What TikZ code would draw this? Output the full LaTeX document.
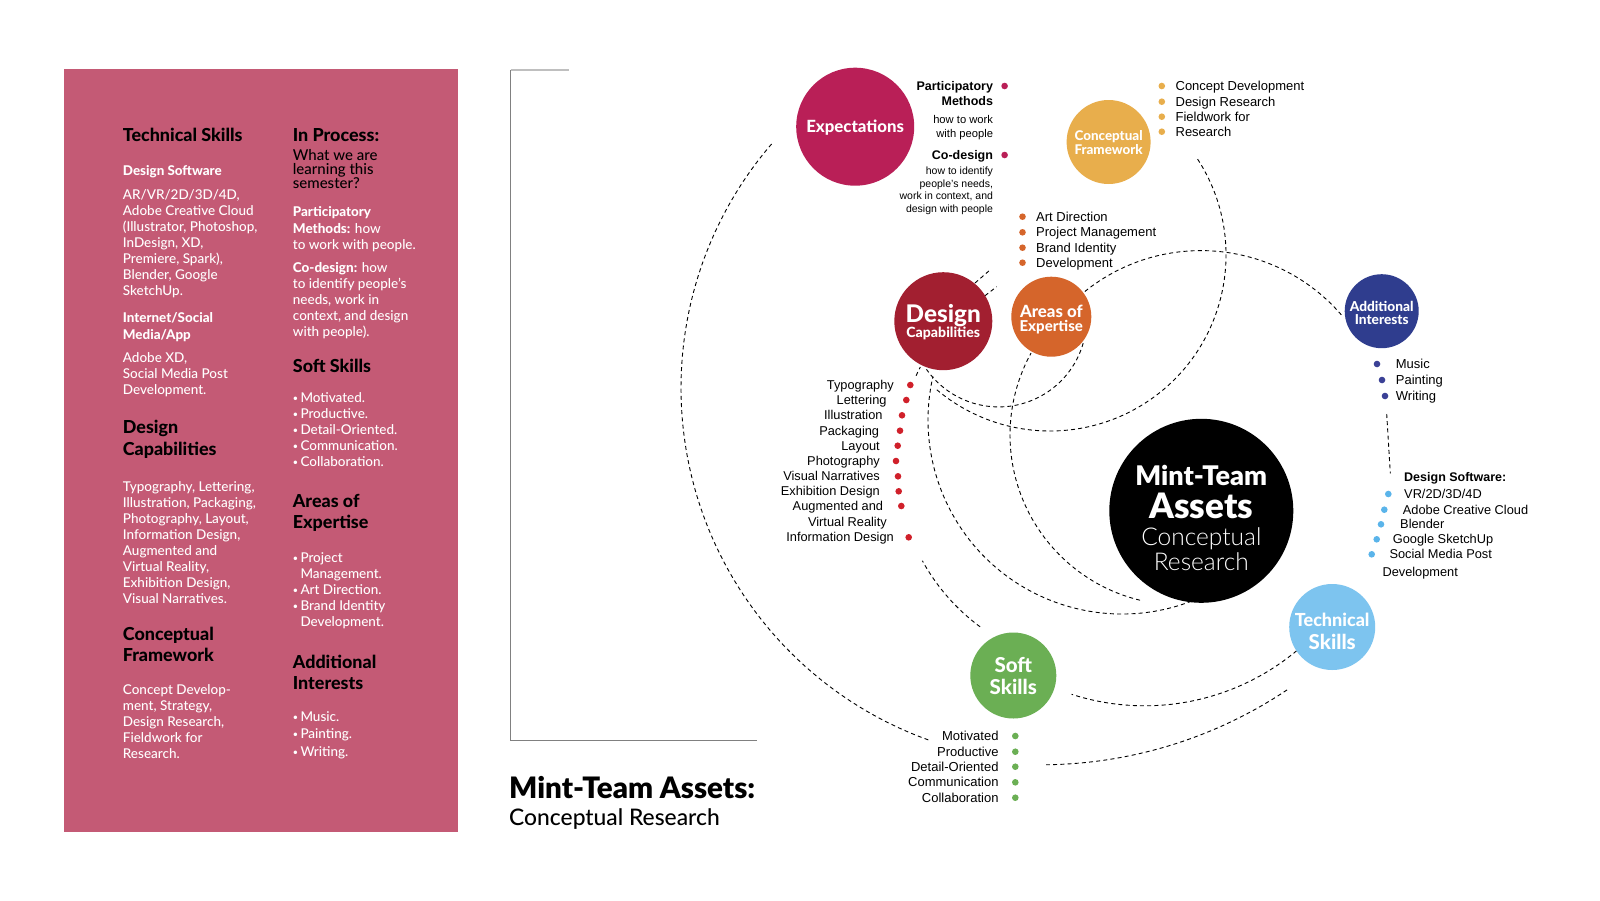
\documentclass[tikz,border=0pt]{standalone}
\usepackage{fontspec}
\setmainfont{Lato}
\newfontfamily\hv{Liberation Sans}
\IfFontExistsTF{Lato Black}{\newfontfamily\latoblack{Lato Black}}{\newfontfamily\latoblackx[FakeBold=1.2]{Lato}\def\latoblack{\latoblackx\bfseries}}
\IfFontExistsTF{Lato Heavy}{\newfontfamily\latoheavy{Lato Heavy}}{\newfontfamily\latoheavyx[FakeBold=0.5]{Lato}\def\latoheavy{\latoheavyx\bfseries}}
\IfFontExistsTF{Lato Light}{\newfontfamily\latolight{Lato Light}}{\newfontfamily\latolight{Lato}}
\IfFontExistsTF{Lato Medium}{\newfontfamily\latomed{Lato Medium}}{\newfontfamily\latomed{Lato}}
\definecolor{panel}{HTML}{C45A75}
\definecolor{cexp}{HTML}{B91F57}
\definecolor{ccf}{HTML}{E8AE4C}
\definecolor{cdc}{HTML}{A21F30}
\definecolor{cae}{HTML}{D5652B}
\definecolor{cai}{HTML}{2F3D8E}
\definecolor{cts}{HTML}{7DC4EF}
\definecolor{css}{HTML}{6BAF54}
\definecolor{cred}{HTML}{D0202A}
\definecolor{cnavy}{HTML}{3B4196}
\definecolor{csky}{HTML}{5AB4EA}
\tikzset{
  ball/.style={circle, inner sep=0pt, minimum size=#1},
  dotm/.style={circle, inner sep=0pt, minimum size=6.6pt, fill=#1},
  dl/.style={line width=0.9pt, dash pattern=on 4pt off 3.2pt},
  lt/.style={inner sep=0pt, anchor=base west},
  rt/.style={inner sep=0pt, anchor=base east},
  ct/.style={inner sep=0pt, anchor=base, text=white},
  ph/.style={lt, font=\latoheavy\fontsize{17.9}{20}\selectfont, text=black},
  ps/.style={lt, font=\latoheavy\fontsize{13.4}{16}\selectfont, text=white},
  pb/.style={lt, font=\latomed\fontsize{13.5}{16}\selectfont, text=white},
  li/.style={font=\hv\fontsize{13}{15}\selectfont},
  ls/.style={font=\hv\fontsize{12.8}{15}\selectfont},
  lk/.style={font=\hv\fontsize{13}{15}\selectfont},
}
\newcommand\hb[1]{{\latoheavy #1}}
\newcommand\bl{\makebox[7.6pt][l]{\raisebox{1pt}{\fontsize{9}{9}\selectfont •}}}
\begin{document}
\begin{tikzpicture}[x=1pt,y=-1pt]
\useasboundingbox (0,0) rectangle (1600,900);
\fill[white] (0,0) rectangle (1600,900);
% ---------- left panel ----------
\node[fill=panel, minimum width=394pt, minimum height=763pt, anchor=north west, inner sep=0pt] (panel) at (64,69) {};
\node[ph] (l1) at (122.7,141.7) {Technical Skills};
\node[ps] (l2) at (122.7,175.3) {Design Software};
\node[pb] (l3) at (122.7,199.3) {AR/VR/2D/3D/4D,};
\node[pb] (l4) at (122.7,215.3) {Adobe Creative Cloud};
\node[pb] (l5) at (122.7,231.3) {(Illustrator, Photoshop,};
\node[pb] (l6) at (122.7,247.3) {InDesign, XD,};
\node[pb] (l7) at (122.7,263.3) {Premiere, Spark),};
\node[pb] (l8) at (122.7,279.3) {Blender, Google};
\node[pb] (l9) at (122.7,295.3) {SketchUp.};
\node[ps] (l10) at (122.7,322.3) {Internet/Social};
\node[ps] (l11) at (122.7,339.3) {Media/App};
\node[pb] (l12) at (122.7,362.3) {Adobe XD,};
\node[pb] (l13) at (122.7,378.3) {Social Media Post};
\node[pb] (l14) at (122.7,394.3) {Development.};
\node[ph] (l15) at (122.7,433.3) {Design};
\node[ph] (l16) at (122.7,455) {Capabilities};
\node[pb] (l17) at (122.7,491.7) {Typography, Lettering,};
\node[pb] (l18) at (122.7,507.7) {Illustration, Packaging,};
\node[pb] (l19) at (122.7,523.7) {Photography, Layout,};
\node[pb] (l20) at (122.7,539.7) {Information Design,};
\node[pb] (l21) at (122.7,555.7) {Augmented and};
\node[pb] (l22) at (122.7,571.7) {Virtual Reality,};
\node[pb] (l23) at (122.7,587.7) {Exhibition Design,};
\node[pb] (l24) at (122.7,603.7) {Visual Narratives.};
\node[ph] (l25) at (122.7,640) {Conceptual};
\node[ph] (l26) at (122.7,661) {Framework};
\node[pb] (l27) at (122.7,694) {Concept Develop-};
\node[pb] (l28) at (122.7,710) {ment, Strategy,};
\node[pb] (l29) at (122.7,726) {Design Research,};
\node[pb] (l30) at (122.7,742) {Fieldwork for};
\node[pb] (l31) at (122.7,758) {Research.};
% right column
\node[ph] (r1) at (292.7,141.7) {In Process:};
\node[lt, font=\latomed\fontsize{15}{15}\selectfont] (r2) at (292.7,160) {What we are};
\node[lt, font=\latomed\fontsize{15}{15}\selectfont] (r3) at (292.7,174.3) {learning this};
\node[lt, font=\latomed\fontsize{15}{15}\selectfont] (r4) at (292.7,188.3) {semester?};
\node[ps] (r5) at (292.7,216.7) {Participatory};
\node[pb] (r6) at (292.7,233) {\hb{Methods:} how};
\node[pb] (r7) at (292.7,249) {to work with people.};
\node[pb] (r8) at (292.7,272.3) {\hb{Co-design:} how};
\node[pb] (r9) at (292.7,288.3) {to identify people’s};
\node[pb] (r10) at (292.7,304.3) {needs, work in};
\node[pb] (r11) at (292.7,320.3) {context, and design};
\node[pb] (r12) at (292.7,336.3) {with people).};
\node[ph] (r13) at (292.7,372.7) {Soft Skills};
\node[pb] (r14) at (292.7,402.7) {\bl Motivated.};
\node[pb] (r15) at (292.7,418.7) {\bl Productive.};
\node[pb] (r16) at (292.7,434.7) {\bl Detail-Oriented.};
\node[pb] (r17) at (292.7,450.7) {\bl Communication.};
\node[pb] (r18) at (292.7,466.7) {\bl Collaboration.};
\node[ph] (r19) at (292.7,507.7) {Areas of};
\node[ph] (r20) at (292.7,528.7) {Expertise};
\node[pb] (r21) at (292.7,562.7) {\bl Project};
\node[pb] (r22) at (300.3,578.7) {Management.};
\node[pb] (r23) at (292.7,594.7) {\bl Art Direction.};
\node[pb] (r24) at (292.7,610.7) {\bl Brand Identity};
\node[pb] (r25) at (300.3,626.7) {Development.};
\node[ph] (r26) at (292.7,668.7) {Additional};
\node[ph] (r27) at (292.7,689.7) {Interests};
\node[pb] (r28) at (292.7,721) {\bl Music.};
\node[pb] (r29) at (292.7,738.7) {\bl Painting.};
\node[pb] (r30) at (292.7,756) {\bl Writing.};
% ---------- bracket and title ----------
\coordinate (bt) at (510.7,70);
\coordinate (btr) at (568.7,70);
\coordinate (bb) at (510.7,740.3);
\coordinate (bbr) at (757,740.3);
\draw[line width=1.3pt, black!25] (bt) -- (btr);
\draw[line width=1.3pt, black!50] (bt) -- (bb) -- (bbr);
\node[lt, font=\latoblack\fontsize{29.5}{31}\selectfont] (title) at (509,798.5) {Mint-Team Assets:};
\node[lt, font=\latomed\fontsize{22.8}{25}\selectfont] (subtitle) at (509,825.5) {Conceptual Research};
% ---------- dashed arcs ----------
\coordinate (cA) at (1055,388);
\coordinate (cB) at (1050,255);
\coordinate (cC) at (1201,436);
\coordinate (cD) at (998.6,318.9);
\coordinate (cE) at (1180,435);
\coordinate (cF) at (1122,420);
\coordinate (cG) at (1102,462);
\coordinate (cH) at (1144.6,468.3);
\coordinate (cI) at (1040.6,321.8);
\draw[dl] (cA) ++(109.8:374) arc[start angle=109.8, end angle=220.9, radius=374];
\draw[dl] (cB) ++(-33:176) arc[start angle=-33, end angle=130, radius=176];
\draw[dl] (cC) ++(-128.8:185.4) arc[start angle=-128.8, end angle=-40, radius=185.4];
\draw[dl] (cD) ++(16:88) arc[start angle=16, end angle=145, radius=88];
\draw[dl] (cE) ++(103.6:170) arc[start angle=103.6, end angle=208.8, radius=170];
\draw[dl] (cF) ++(60.5:194) arc[start angle=60.5, end angle=193, radius=194];
\draw[dl] (cG) ++(126.5:205) arc[start angle=126.5, end angle=151.2, radius=205];
\draw[dl] (cG) ++(204.9:205) arc[start angle=204.9, end angle=207.6, radius=205];
\draw[dl] (cH) ++(50.2:237.5) arc[start angle=50.2, end angle=107.9, radius=237.5];
\draw[dl] (cI) ++(56.2:443) arc[start angle=56.2, end angle=89.3, radius=443];
\coordinate (s1a) at (975,283); \coordinate (s1b) at (990,270);
\coordinate (s2a) at (985,295.7); \coordinate (s2b) at (996.7,286.7);
\draw[dl] (s1a) -- (s1b);
\draw[dl] (s2a) -- (s2b);
\coordinate (ka) at (1386.7,414); \coordinate (kb) at (1390.3,473.3);
\draw[dl] (ka) -- (kb);
% ---------- circles ----------
\node[ball=118pt, fill=cexp] (exp) at (855.2,126.7) {};
\node[ball=84pt, fill=ccf] (cf) at (1108.6,142) {};
\node[ball=98pt, fill=cdc] (dc) at (943.3,321.2) {};
\node[ball=80pt, fill=cae] (ae) at (1051.3,316.7) {};
\node[ball=74pt, fill=cai] (ai) at (1381.7,311.2) {};
\node[ball=184pt, fill=black] (mt) at (1201.3,510.8) {};
\node[ball=86pt, fill=cts] (ts) at (1332.2,627) {};
\node[ball=86pt, fill=css] (ss) at (1013.3,675.5) {};
% circle labels
\node[ct, font=\latoheavy\fontsize{16.8}{18}\selectfont] (expT) at (855.2,132) {Expectations};
\node[ct, font=\latoheavy\fontsize{13.4}{14}\selectfont] (cfT1) at (1108.6,140.5) {Conceptual};
\node[ct, font=\latoheavy\fontsize{13.4}{14}\selectfont] (cfT2) at (1108.6,154.5) {Framework};
\node[ct, font=\latoheavy\fontsize{24.3}{26}\selectfont] (dcT1) at (943.3,322) {Design};
\node[ct, font=\latoheavy\fontsize{14.1}{16}\selectfont] (dcT2) at (943.3,337) {Capabilities};
\node[ct, font=\latoheavy\fontsize{16.8}{17}\selectfont] (aeT1) at (1051.3,317.5) {Areas of};
\node[ct, font=\latoheavy\fontsize{15}{16}\selectfont] (aeT2) at (1051.3,331.5) {Expertise};
\node[ct, font=\latoheavy\fontsize{13.7}{14}\selectfont] (aiT1) at (1381.7,311.2) {Additional};
\node[ct, font=\latoheavy\fontsize{13.7}{14}\selectfont] (aiT2) at (1381.7,324.7) {Interests};
\node[ct, font=\latoblack\fontsize{27}{28}\selectfont] (mtT1) at (1201.3,485) {Mint-Team};
\node[ct, font=\latoblack\fontsize{35}{36}\selectfont] (mtT2) at (1201.3,518) {Assets};
\node[ct, font=\latolight\fontsize{24.5}{26}\selectfont] (mtT3) at (1201.3,545.5) {Conceptual};
\node[ct, font=\latolight\fontsize{24.5}{26}\selectfont] (mtT4) at (1201.3,570.5) {Research};
\node[ct, font=\latoheavy\fontsize{18}{20}\selectfont] (tsT1) at (1332.2,626.5) {Technical};
\node[ct, font=\latoheavy\fontsize{20.5}{22}\selectfont] (tsT2) at (1332.2,649) {Skills};
\node[ct, font=\latoheavy\fontsize{20.5}{22}\selectfont] (ssT1) at (1013.3,672.5) {Soft};
\node[ct, font=\latoheavy\fontsize{20.5}{22}\selectfont] (ssT2) at (1013.3,694) {Skills};
% ---------- Expectations annotations ----------
\node[rt, font=\hv\fontsize{12.5}{14}\selectfont\bfseries] (e1) at (993.2,90) {Participatory};
\node[rt, font=\hv\fontsize{12.5}{14}\selectfont\bfseries] (e2) at (993.2,105) {Methods};
\node[rt, font=\hv\fontsize{11.2}{13}\selectfont] (e3) at (993.2,123) {how to work};
\node[rt, font=\hv\fontsize{11.2}{13}\selectfont] (e4) at (993.2,137) {with people};
\node[rt, font=\hv\fontsize{12.5}{14}\selectfont\bfseries] (e5) at (993.2,159) {Co-design};
\node[rt, font=\hv\fontsize{10.5}{12}\selectfont] (e6) at (993.2,174.5) {how to identify};
\node[rt, font=\hv\fontsize{10.5}{12}\selectfont] (e7) at (993.2,187.5) {people’s needs,};
\node[rt, font=\hv\fontsize{10.5}{12}\selectfont] (e8) at (993.2,199.5) {work in context, and};
\node[rt, font=\hv\fontsize{10.5}{12}\selectfont] (e9) at (993.2,212) {design with people};
\node[dotm=cexp] (ed1) at (1004.6,86) {};
\node[dotm=cexp] (ed2) at (1004.6,155) {};
% ---------- Conceptual Framework list ----------
\node[dotm=ccf] (cd1) at (1161.8,86) {};
\node[dotm=ccf] (cd2) at (1161.8,101.7) {};
\node[dotm=ccf] (cd3) at (1161.8,116.7) {};
\node[dotm=ccf] (cd4) at (1161.8,131.7) {};
\node[lt, li] (ct1) at (1175.4,90.5) {Concept Development};
\node[lt, li] (ct2) at (1175.4,106.2) {Design Research};
\node[lt, li] (ct3) at (1175.4,121.2) {Fieldwork for};
\node[lt, li] (ct4) at (1175.4,136.2) {Research};
% ---------- Areas of Expertise list ----------
\node[dotm=cae] (ad1) at (1022.5,216.7) {};
\node[dotm=cae] (ad2) at (1022.5,232.3) {};
\node[dotm=cae] (ad3) at (1022.5,247.7) {};
\node[dotm=cae] (ad4) at (1022.5,262.7) {};
\node[lt, li] (at1) at (1036,221.2) {Art Direction};
\node[lt, li] (at2) at (1036,236.8) {Project Management};
\node[lt, li] (at3) at (1036,252.2) {Brand Identity};
\node[lt, li] (at4) at (1036,267.2) {Development};
% ---------- Design Capabilities list ----------
\node[rt, ls] (d1) at (894,389.3) {Typography};
\node[rt, ls] (d2) at (886.7,404.3) {Lettering};
\node[rt, ls] (d3) at (882.7,419.6) {Illustration};
\node[rt, ls] (d4) at (879.3,435) {Packaging};
\node[rt, ls] (d5) at (880,450) {Layout};
\node[rt, ls] (d6) at (880,465.3) {Photography};
\node[rt, ls] (d7) at (880,480.6) {Visual Narratives};
\node[rt, ls] (d8) at (880,495.6) {Exhibition Design};
\node[rt, ls] (d9) at (883.3,510.3) {Augmented and};
\node[rt, ls] (d10) at (887,526.3) {Virtual Reality};
\node[rt, ls] (d11) at (894,541.6) {Information Design};
\node[dotm=cred] (dd1) at (910.3,385) {};
\node[dotm=cred] (dd2) at (906.3,400) {};
\node[dotm=cred] (dd3) at (902,415.3) {};
\node[dotm=cred] (dd4) at (900,430.7) {};
\node[dotm=cred] (dd5) at (897.7,445.7) {};
\node[dotm=cred] (dd6) at (896,461) {};
\node[dotm=cred] (dd7) at (898,476.3) {};
\node[dotm=cred] (dd8) at (898.7,491.3) {};
\node[dotm=cred] (dd9) at (901.3,506) {};
\node[dotm=cred] (dd10) at (908.7,537.3) {};
% ---------- Additional Interests list ----------
\node[dotm=cnavy] (id1) at (1377,364) {};
\node[dotm=cnavy] (id2) at (1382,380) {};
\node[dotm=cnavy] (id3) at (1385,396) {};
\node[lt, li] (it1) at (1395.7,368.5) {Music};
\node[lt, li] (it2) at (1395.7,384.5) {Painting};
\node[lt, li] (it3) at (1395.7,400.5) {Writing};
% ---------- Design Software list ----------
\node[lt, font=\hv\fontsize{12.5}{14}\selectfont\bfseries] (sw0) at (1404,481.6) {Design Software:};
\node[dotm=csky] (sd1) at (1388.3,494) {};
\node[dotm=csky] (sd2) at (1384.3,509.7) {};
\node[dotm=csky] (sd3) at (1381,524.3) {};
\node[dotm=csky] (sd4) at (1376.7,539.3) {};
\node[dotm=csky] (sd5) at (1371.7,554.3) {};
\node[lt, ls] (sw1) at (1404,498.3) {VR/2D/3D/4D};
\node[lt, ls] (sw2) at (1402.7,514) {Adobe Creative Cloud};
\node[lt, ls] (sw3) at (1400,528.6) {Blender};
\node[lt, ls] (sw4) at (1392.7,543.6) {Google SketchUp};
\node[lt, ls] (sw5) at (1389.3,558.6) {Social Media Post};
\node[lt, ls] (sw6) at (1382.3,576) {Development};
% ---------- Soft Skills list ----------
\node[dotm=css] (sk1) at (1015.3,736) {};
\node[dotm=css] (sk2) at (1015.3,751.7) {};
\node[dotm=css] (sk3) at (1015.3,766.7) {};
\node[dotm=css] (sk4) at (1015.3,782.3) {};
\node[dotm=css] (sk5) at (1015.3,797.7) {};
\node[rt, lk] (st1) at (998.7,740.4) {Motivated};
\node[rt, lk] (st2) at (998.7,756.1) {Productive};
\node[rt, lk] (st3) at (998.7,771.1) {Detail-Oriented};
\node[rt, lk] (st4) at (998.7,786.7) {Communication};
\node[rt, lk] (st5) at (998.7,802.1) {Collaboration};
\end{tikzpicture}
\end{document}
